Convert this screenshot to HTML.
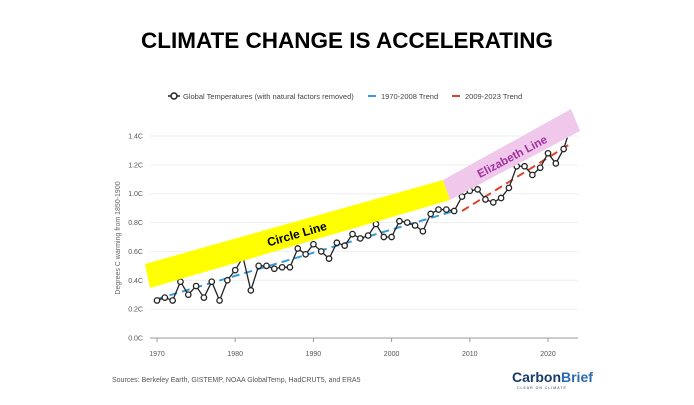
<!DOCTYPE html>
<html><head><meta charset="utf-8"><style>
body{margin:0;width:694px;height:400px;background:#fff;overflow:hidden;font-family:"Liberation Sans",sans-serif}
</style></head><body>
<svg width="694" height="400" font-family="Liberation Sans, sans-serif">
<text x="347" y="48" text-anchor="middle" font-size="22.5" font-weight="bold" fill="#000">CLIMATE CHANGE IS ACCELERATING</text>
<g font-size="7.5" fill="#444">
<g><line x1="168" y1="96" x2="180" y2="96" stroke="#222" stroke-width="1.5"/><circle cx="174" cy="96" r="3" fill="#fff" stroke="#222" stroke-width="1.5"/><text x="183" y="99">Global Temperatures (with natural factors removed)</text></g>
<g><line x1="368" y1="96" x2="376" y2="96" stroke="#3a9ad9" stroke-width="2"/><text x="381" y="99">1970-2008 Trend</text></g>
<g><line x1="452" y1="96" x2="460" y2="96" stroke="#d9432b" stroke-width="2"/><text x="465" y="99">2009-2023 Trend</text></g>
</g>
<g id="grid"></g><g id="plot"></g><g id="over"></g>
<g><text transform="translate(120,238) rotate(-90)" text-anchor="middle" font-size="7" fill="#666">Degrees C warming from 1850-1900</text></g>
<g>
<polygon points="145,264 443,180 450,200 150,288" fill="#ffff00"/>
<text transform="translate(298,238) rotate(-16)" text-anchor="middle" font-size="12" font-weight="bold" fill="#000">Circle Line</text></g>
<g>
<polygon points="443,180 571,109 580,131 450,200" fill="#f0c8ec"/>
<text transform="translate(514,160) rotate(-28)" text-anchor="middle" font-size="11.5" font-weight="bold" fill="#a0309a">Elizabeth Line</text></g>
<text x="112" y="382" font-size="7" fill="#555">Sources: Berkeley Earth, GISTEMP, NOAA GlobalTemp, HadCRUT5, and ERA5</text>
<g><text x="512" y="382" font-size="14" font-weight="bold" fill="#1a3a6a">Carbon<tspan fill="#2a6ab0">Brief</tspan></text><text x="517" y="389" font-size="3.5" fill="#1a3a6a" letter-spacing="1">CLEAR ON CLIMATE</text></g>
</svg>
<script>
const years=[];for(let y=1970;y<=2023;y++)years.push(y);
const temps=[0.26,0.28,0.26,0.39,0.30,0.36,0.28,0.39,0.26,0.40,0.47,0.56,0.33,0.50,0.50,0.48,0.49,0.49,0.62,0.58,0.65,0.60,0.55,0.66,0.64,0.72,0.69,0.71,0.79,0.70,0.70,0.81,0.80,0.78,0.74,0.86,0.89,0.89,0.88,0.98,1.02,1.03,0.96,0.94,0.97,1.04,1.19,1.19,1.13,1.18,1.28,1.21,1.31,1.48];
const trend1=[[1970,0.27],[2008,0.88]];
const trend2=[[2009,0.88],[2023,1.35]];
const yTicks=[0,0.2,0.4,0.6,0.8,1.0,1.2,1.4];
const xTicks=[1970,1980,1990,2000,2010,2020];
const NS="http://www.w3.org/2000/svg";
const X=y=>157+(y-1970)*7.82, Y=v=>338-v*144.3;
function mk(t,a,p){const e=document.createElementNS(NS,t);for(const k in a)e.setAttribute(k,a[k]);p.appendChild(e);return e;}
const grid=document.getElementById('grid'),plot=document.getElementById('plot'),over=document.getElementById('over');
yTicks.forEach(v=>{const l=mk('line',{x1:150,x2:578,y1:Y(v),y2:Y(v),stroke:v===0?'#999':'#eee','stroke-width':1},grid);


const t=mk('text',{x:143,y:Y(v)+2.5,'text-anchor':'end','font-size':7,fill:'#555'},grid);t.textContent=v.toFixed(1)+'C';

});
xTicks.forEach(y=>{mk('line',{x1:X(y),x2:X(y),y1:338,y2:342,stroke:'#999'},grid);
const t=mk('text',{x:X(y),y:356,'text-anchor':'middle','font-size':7,fill:'#555'},grid);t.textContent=y;

});
const t1=mk('line',{x1:X(trend1[0][0]),y1:Y(trend1[0][1]),x2:X(trend1[1][0]),y2:Y(trend1[1][1]),stroke:'#3a9ad9','stroke-width':2,'stroke-dasharray':'8,5'},plot);


const t2=mk('line',{x1:X(trend2[0][0]),y1:Y(trend2[0][1]),x2:X(trend2[1][0]),y2:Y(trend2[1][1]),stroke:'#d9432b','stroke-width':2,'stroke-dasharray':'8,5'},over);


const pl=mk('polyline',{points:years.map((y,i)=>X(y)+','+Y(temps[i])).join(' '),fill:'none',stroke:'#222','stroke-width':1.3},over);


years.forEach((y,i)=>{const c=mk('circle',{cx:X(y),cy:Y(temps[i]),r:2.7,fill:'#fff',stroke:'#222','stroke-width':1.3},over);

});
</script>
</body></html>
